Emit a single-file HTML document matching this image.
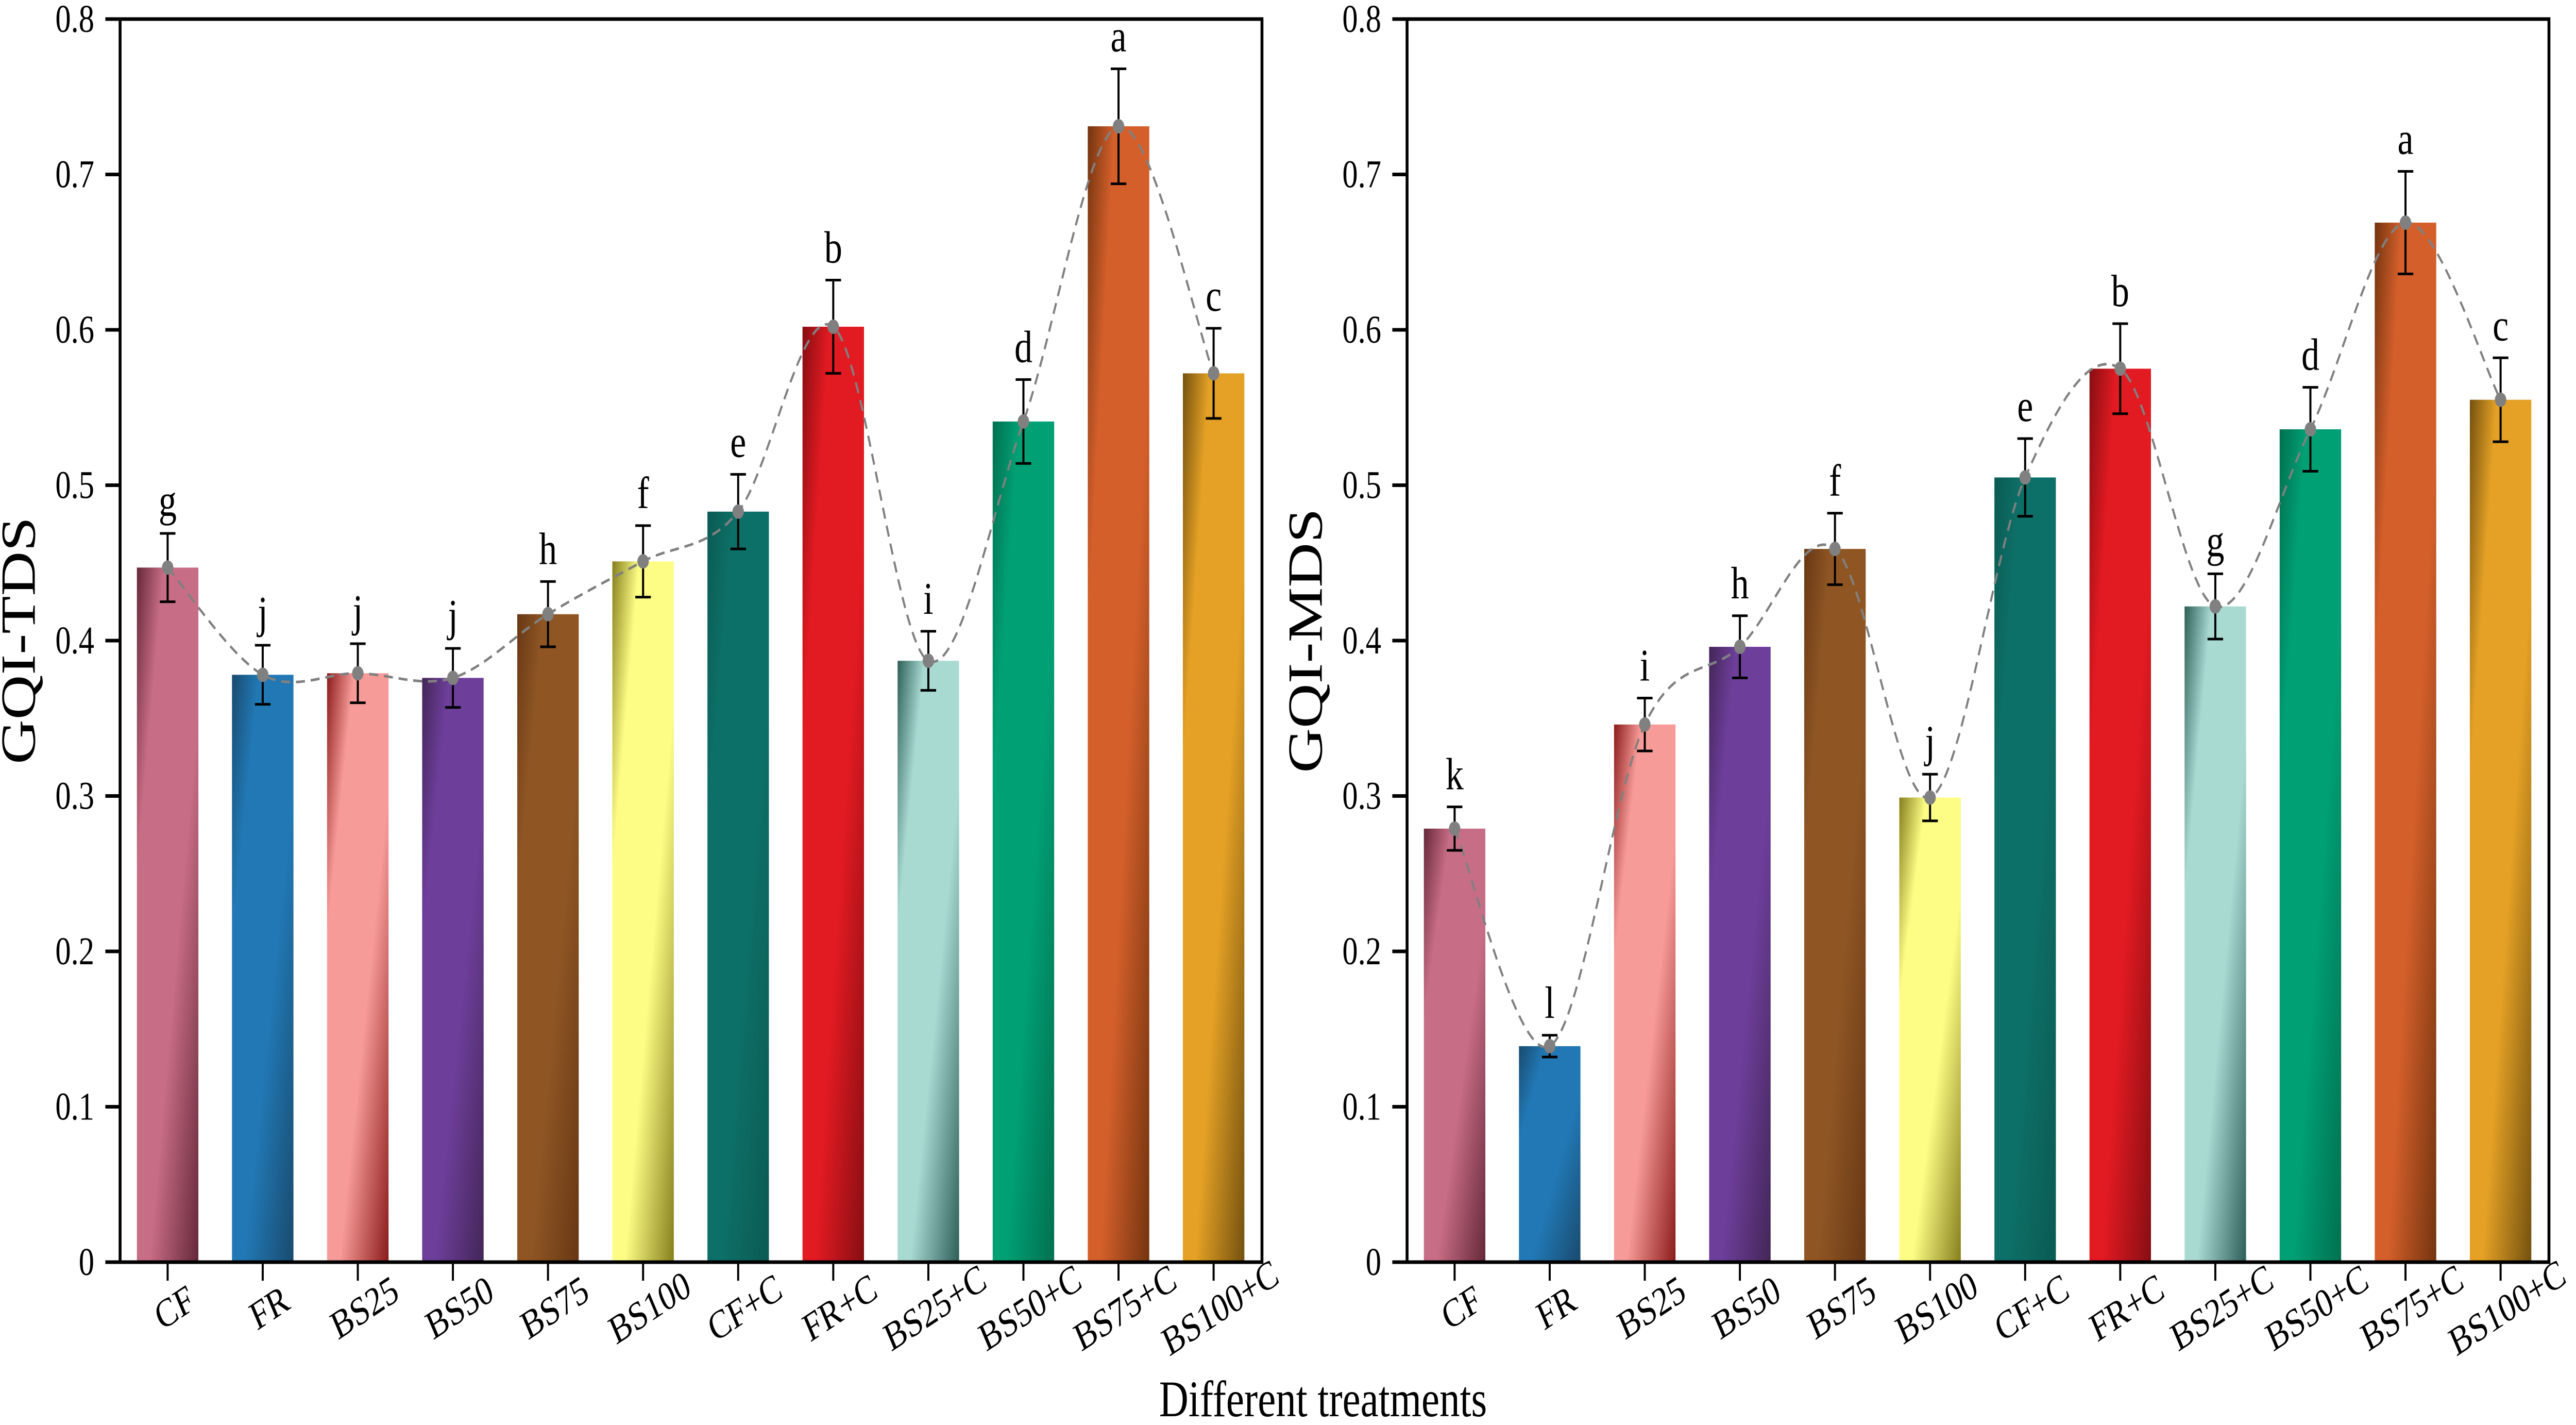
<!DOCTYPE html>
<html><head><meta charset="utf-8">
<style>
html,body{margin:0;padding:0;background:#fff;overflow:hidden;width:100%;height:100%;}
svg{display:block;overflow:hidden;width:100vw;height:100vh;font-family:"Liberation Serif","Times New Roman",serif;}
</style></head>
<body>
<svg id="chart" viewBox="0 0 6285 2765" preserveAspectRatio="none" xmlns="http://www.w3.org/2000/svg">
<defs id="defs"></defs>
<g id="panels"></g>
<text x="3228" y="2748" font-size="100" text-anchor="middle" textLength="800" lengthAdjust="spacingAndGlyphs">Different treatments</text>
</svg>
<script>
const categories = ["CF","FR","BS25","BS50","BS75","BS100","CF+C","FR+C","BS25+C","BS50+C","BS75+C","BS100+C"];
const tdsValues = [0.447,0.378,0.379,0.376,0.417,0.451,0.483,0.602,0.387,0.541,0.731,0.572];
const tdsErrors = [0.022,0.019,0.019,0.019,0.021,0.023,0.024,0.030,0.019,0.027,0.037,0.029];
const tdsLetters = ["g","j","j","j","h","f","e","b","i","d","a","c"];
const mdsValues = [0.279,0.139,0.346,0.396,0.459,0.299,0.505,0.575,0.422,0.536,0.669,0.555];
const mdsErrors = [0.014,0.007,0.017,0.020,0.023,0.015,0.025,0.029,0.021,0.027,0.033,0.027];
const mdsLetters = ["k","l","i","h","f","j","e","b","g","d","a","c"];
const yTicks = [0,0.1,0.2,0.3,0.4,0.5,0.6,0.7,0.8];
const yTickLabels = ["0","0.1","0.2","0.3","0.4","0.5","0.6","0.7","0.8"];
const lightColors = ["#c86d86","#2178b4","#f79b98","#6d3e9a","#8f5624","#fdfd85","#0d7068","#e21a22","#a9dad2","#00a075","#d45f2b","#e4a125"];
const darkColors  = ["#652838","#194a6e","#8a1b1b","#432658","#673714","#857f1c","#0a5a52","#860e12","#2d5e58","#00704f","#73340f","#74510f"];

const NS="http://www.w3.org/2000/svg";
const svg=document.getElementById('chart');
const defs=document.getElementById('defs');
const panels=document.getElementById('panels');
function mk(tag,attrs,parent){const e=document.createElementNS(NS,tag);for(const k in attrs)e.setAttribute(k,attrs[k]);(parent||svg).appendChild(e);return e;}

lightColors.forEach((c,i)=>{
  const g=mk('linearGradient',{id:'grad'+i,x1:'0',y1:'0',x2:'1',y2:'1'},defs);
  mk('stop',{offset:'0',"stop-color":darkColors[i]},g);
  mk('stop',{offset:'0.22',"stop-color":lightColors[i]},g);
  mk('stop',{offset:'0.6',"stop-color":lightColors[i]},g);
  mk('stop',{offset:'1',"stop-color":darkColors[i]},g);
});

const Y0=2449, Y8=37, W=2786, STEP=232, FIRST=116, BARW=150;
function yScale(v){return Y0-(v/0.8)*(Y0-Y8);}

function drawPanel(axisX,values,errors,letters,title,key){
  const g=mk('g',{},panels);
  
  
  const xScale=i=>axisX+FIRST+i*STEP;
  values.forEach((v,i)=>{
    const r=mk('rect',{x:xScale(i)-BARW/2,y:yScale(v),width:BARW,height:Y0-yScale(v),fill:'url(#grad'+i+')'},g);
    
    
  });
  const pts=values.map((v,i)=>[xScale(i),yScale(v)]);
  let d='M'+pts[0][0]+','+pts[0][1];
  for(let i=0;i<pts.length-1;i++){
    const p0=pts[Math.max(0,i-1)],p1=pts[i],p2=pts[i+1],p3=pts[Math.min(pts.length-1,i+2)];
    const c1=[p1[0]+(p2[0]-p0[0])/6,p1[1]+(p2[1]-p0[1])/6];
    const c2=[p2[0]-(p3[0]-p1[0])/6,p2[1]-(p3[1]-p1[1])/6];
    d+=' C'+c1[0]+','+c1[1]+' '+c2[0]+','+c2[1]+' '+p2[0]+','+p2[1];
  }
  const line=mk('path',{d:d,fill:'none',stroke:'#808080','stroke-width':5,'stroke-dasharray':'22,14'},g);
  
  
  values.forEach((v,i)=>{
    const x=xScale(i),yt=yScale(v+errors[i]),yb=yScale(v-errors[i]);
    const eb=mk('path',{d:`M${x},${yt}V${yb}M${x-19},${yt}H${x+19}M${x-19},${yb}H${x+19}`,stroke:'#000','stroke-width':5,fill:'none'},g);
    
    
    const c=mk('circle',{cx:x,cy:yScale(v),r:14,fill:'#808080'},g);
    
    
    const t=mk('text',{x:x,y:yt-34,'font-size':88,'text-anchor':'middle'},g);
    t.textContent=letters[i];
    
    
  });
  const fr=mk('rect',{x:axisX,y:Y8,width:W,height:Y0-Y8,fill:'none',stroke:'#000','stroke-width':7},g);
  
  
  yTicks.forEach((t,i)=>{
    const y=yScale(t);
    mk('line',{x1:axisX-36,x2:axisX,y1:y,y2:y,stroke:'#000','stroke-width':7},g);
    const lb=mk('text',{x:axisX-63,y:y+25,'font-size':76,'text-anchor':'end'},g);
    lb.textContent=yTickLabels[i];
    
    
  });
  categories.forEach((c,i)=>{
    const x=xScale(i);
    mk('line',{x1:x,x2:x,y1:Y0,y2:Y0+36,stroke:'#000','stroke-width':5},g);
    const cx=x+16,cy=2537;
    const lb=mk('text',{x:cx,y:cy+26,'font-size':78,'text-anchor':'middle',transform:`rotate(-28 ${cx} ${cy})`},g);
    lb.textContent=c;
    
    
  });
  const yt=mk('text',{x:0,y:0,'font-size':120,'text-anchor':'middle',transform:`translate(${axisX-208},${(Y0+Y8)/2}) rotate(-90)`},g);
  yt.textContent=title;
  
  
}
drawPanel(293,tdsValues,tdsErrors,tdsLetters,'GQI-TDS','tds');
drawPanel(3433,mdsValues,mdsErrors,mdsLetters,'GQI-MDS','mds');
</script>
</body></html>
